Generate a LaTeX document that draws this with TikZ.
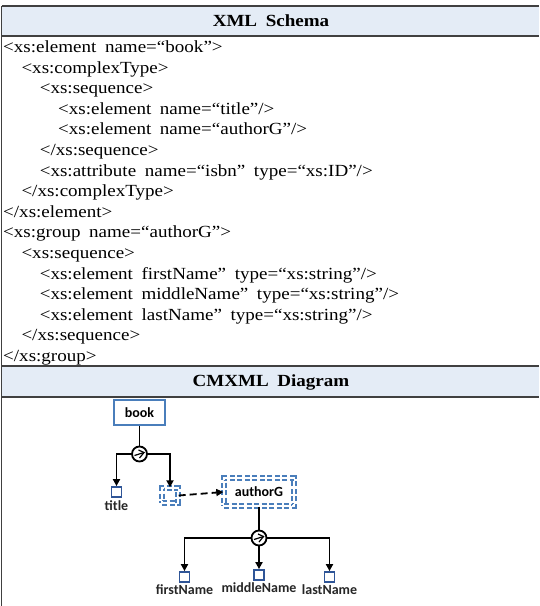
\documentclass[tikz,border=0pt]{standalone}
\usepackage{fontspec}
\setmainfont{Liberation Serif}[FakeStretch=1.12, WordSpace=1.8]
\newfontfamily\diagfont{Carlito}
\usepackage{xcolor}
\usetikzlibrary{arrows.meta,positioning}
\definecolor{rule}{HTML}{404040}
\definecolor{headfill}{HTML}{E4ECF6}
\definecolor{boxblue}{HTML}{4A7EBB}
\definecolor{leafblue}{HTML}{2F5597}
\tikzset{
  headtext/.style={font=\fontsize{17}{20}\selectfont\bfseries, inner sep=0pt},
  codeline/.style={anchor=base west, inner sep=0pt,
    font=\fontsize{17}{20}\selectfont},
  elembox/.style={rectangle, draw=boxblue, fill=white, line width=1.6pt,
    minimum width=51pt, minimum height=25pt, inner sep=0pt,
    font=\diagfont\bfseries\fontsize{14}{16}\selectfont},
  grpbox/.style={rectangle, draw=boxblue, line width=1.4pt, dashed,
    dash pattern=on 5pt off 2.5pt, double=white, double distance=2.4pt,
    minimum width=#1, inner sep=0pt,
    font=\diagfont\bfseries\fontsize{14}{16}\selectfont},
  grpbox/.default=16pt,
  seqnode/.style={circle, draw, line width=1.8pt, fill=white,
    minimum size=15pt, inner sep=0pt},
  leaf/.style={rectangle, draw=leafblue, fill=white, line width=1.8pt,
    minimum size=10pt, inner sep=0pt},
  leaflabel/.style={font=\diagfont\bfseries\fontsize{14}{16}\selectfont,
    text=black!85, inner sep=0pt},
  link/.style={-{Triangle[length=7pt,width=7pt]}, line width=1.8pt},
  reflink/.style={-{Triangle[length=7pt,width=7pt]}, line width=1.8pt,
    dash pattern=on 7pt off 4pt},
}

\begin{document}
\begin{tikzpicture}[x=1pt, y=-1pt]
\useasboundingbox (0,0) rectangle (539,606);
% table frame
\fill[headfill] (1.5,6) rectangle (539,36);
\fill[headfill] (1.5,366) rectangle (539,397);
\draw[rule, line width=1.6pt] (1.5,6) -- (539,6);
\draw[rule, line width=1.6pt] (1.5,36) -- (539,36);
\draw[rule, line width=1.6pt] (1.5,366) -- (539,366);
\draw[rule, line width=1.6pt] (1.5,397) -- (539,397);
\draw[rule, line width=1.6pt] (1.5,6) -- (1.5,606);
\node[headtext] (schemahead) at (271,21) {XML Schema};
\node[headtext] (diaghead) at (271,382) {CMXML Diagram};

% schema listing
\node[codeline] (c1) at (3,52.5) {<xs:element name=“book”>};
\node[codeline] (c2) at (21.3,73.1) {<xs:complexType>};
\node[codeline] (c3) at (39.6,93.7) {<xs:sequence>};
\node[codeline] (c4) at (57.9,114.3) {<xs:element name=“title”/>};
\node[codeline] (c5) at (57.9,134.9) {<xs:element name=“authorG”/>};
\node[codeline] (c6) at (39.6,155.5) {</xs:sequence>};
\node[codeline] (c7) at (39.6,176.1) {<xs:attribute name=“isbn” type=“xs:ID”/>};
\node[codeline] (c8) at (21.3,196.7) {</xs:complexType>};
\node[codeline] (c9) at (3,217.3) {</xs:element>};
\node[codeline] (c10) at (3,237.9) {<xs:group name=“authorG”>};
\node[codeline] (c11) at (21.3,258.5) {<xs:sequence>};
\node[codeline] (c12) at (39.6,279.1) {<xs:element firstName” type=“xs:string”/>};
\node[codeline] (c13) at (39.6,299.7) {<xs:element middleName” type=“xs:string”/>};
\node[codeline] (c14) at (39.6,320.3) {<xs:element lastName” type=“xs:string”/>};
\node[codeline] (c15) at (21.3,340.9) {</xs:sequence>};
\node[codeline] (c16) at (3,361.5) {</xs:group>};

% diagram
\node[elembox] (book) at (139.5,412.5) {book};
\node[seqnode] (seq1) at (139.5,454) {};
\node[leaf] (title) at (116.5,492) {};
\node[leaflabel, below=3pt of title] (titlelbl) {title};
\node[grpbox=16pt, minimum height=15pt] (authref) at (170,495.5) {};
\node[grpbox=70pt, minimum height=28pt] (authorG) at (259,492) {authorG};
\node[seqnode] (seq2) at (259,538) {};
\node[leaf] (first) at (184.5,577) {};
\node[leaf] (middle) at (259,575) {};
\node[leaf] (last) at (329.5,577) {};
\node[leaflabel, below=2pt of first] (firstlbl) {firstName};
\node[leaflabel, below=2pt of middle] (middlelbl) {middleName};
\node[leaflabel, below=2pt of last] (lastlbl) {lastName};

% sequence marks
\foreach \s in {seq1,seq2}{
  \draw[line width=1.2pt] ([shift={(-5pt,-1.5pt)}]\s.center) -- ([shift={(4.5pt,1.5pt)}]\s.center);
  \draw[line width=1.2pt] ([shift={(0pt,-4pt)}]\s.center) -- ([shift={(4.5pt,1.5pt)}]\s.center)
    -- ([shift={(-1pt,4pt)}]\s.center);
}

\draw[line width=1.8pt] (book) -- (seq1);
\draw[link] (seq1.west) -| (title.north);
\draw[link] (seq1.east) -| (authref.north);
\draw[reflink] (authref.east) -- (authorG.west);
\draw[line width=1.8pt] (authorG) -- (seq2);
\draw[link] (seq2.west) -| (first.north);
\draw[link] (seq2) -- (middle.north);
\draw[link] (seq2.east) -| (last.north);
\end{tikzpicture}
\end{document}
